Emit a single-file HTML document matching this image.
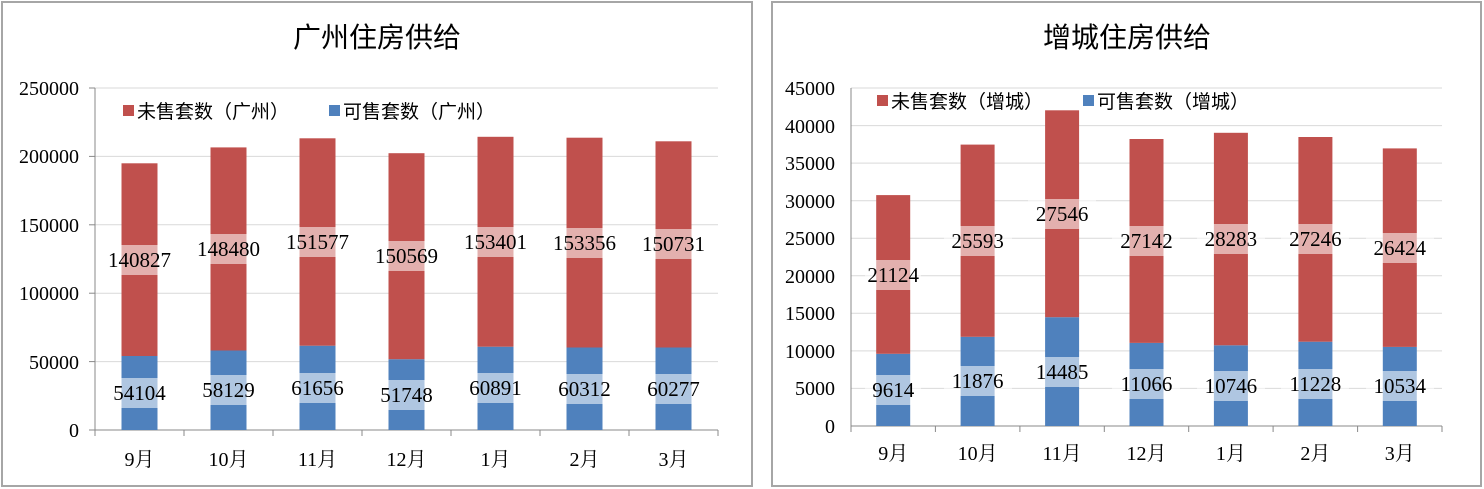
<!DOCTYPE html>
<html><head><meta charset="utf-8"><style>
html,body{margin:0;padding:0;background:#fff;}
svg{display:block;font-family:"Liberation Serif","Noto Serif CJK SC","Noto Sans CJK SC",serif;}
.t{font-size:20px;fill:#000;}
.d{font-size:21px;fill:#000;}
.lg{font-size:19px;font-family:"Liberation Sans","Noto Sans CJK SC",sans-serif;}
.ttl{font-size:28px;font-family:"Liberation Sans","Noto Sans CJK SC",sans-serif;}
.g{stroke:#d9d9d9;stroke-width:1;}
.ax{stroke:#888;stroke-width:1;}
.r{fill:#c0504d;} .b{fill:#4f81bd;}
.lb{fill:#fff;opacity:0.55;}
</style></head><body>
<svg width="1484" height="489" viewBox="0 0 1484 489">
<rect x="2" y="2" width="750" height="484" fill="#fff" stroke="#a6a6a6" stroke-width="2"/>
<rect x="772" y="2" width="709" height="484" fill="#fff" stroke="#a6a6a6" stroke-width="2"/>

<!-- LEFT -->
<text class="ttl" x="377" y="47" text-anchor="middle">广州住房供给</text>
<g>
<line class="g" x1="95" x2="718" y1="88" y2="88"/>
<line class="g" x1="95" x2="718" y1="156.4" y2="156.4"/>
<line class="g" x1="95" x2="718" y1="224.8" y2="224.8"/>
<line class="g" x1="95" x2="718" y1="293.2" y2="293.2"/>
<line class="g" x1="95" x2="718" y1="361.6" y2="361.6"/>
<line class="ax" x1="95" x2="95" y1="88" y2="430"/>
<line class="ax" x1="89" x2="95" y1="88" y2="88"/><line class="ax" x1="89" x2="95" y1="156.4" y2="156.4"/><line class="ax" x1="89" x2="95" y1="224.8" y2="224.8"/><line class="ax" x1="89" x2="95" y1="293.2" y2="293.2"/><line class="ax" x1="89" x2="95" y1="361.6" y2="361.6"/><line class="ax" x1="89" x2="95" y1="430" y2="430"/>
<line class="ax" x1="95" x2="718" y1="430" y2="430"/>
<line class="ax" x1="95" x2="95" y1="430" y2="436"/><line class="ax" x1="184" x2="184" y1="430" y2="436"/><line class="ax" x1="273" x2="273" y1="430" y2="436"/><line class="ax" x1="362" x2="362" y1="430" y2="436"/><line class="ax" x1="451" x2="451" y1="430" y2="436"/><line class="ax" x1="540" x2="540" y1="430" y2="436"/><line class="ax" x1="629" x2="629" y1="430" y2="436"/><line class="ax" x1="718" x2="718" y1="430" y2="436"/>
<g class="t" text-anchor="end">
<text x="79" y="95">250000</text><text x="79" y="163">200000</text><text x="79" y="232">150000</text><text x="79" y="300">100000</text><text x="79" y="369">50000</text><text x="79" y="437">0</text>
</g>
<g class="t" text-anchor="middle">
<text x="139.5" y="466">9月</text><text x="228.5" y="466">10月</text><text x="317.5" y="466">11月</text><text x="406.5" y="466">12月</text><text x="495.5" y="466">1月</text><text x="584.5" y="466">2月</text><text x="673.5" y="466">3月</text>
</g>
<rect class="r" x="123" y="105" width="11" height="11"/><text class="lg" x="137" y="118">未售套数（广州）</text>
<rect class="b" x="329" y="105" width="11" height="11"/><text class="lg" x="343" y="118">可售套数（广州）</text>

<rect class="b" x="121.5" y="356" width="36" height="74"/><rect class="r" x="121.5" y="163.3" width="36" height="192.7"/>
<rect class="b" x="210.5" y="350.5" width="36" height="79.5"/><rect class="r" x="210.5" y="147.4" width="36" height="203.1"/>
<rect class="b" x="299.5" y="345.7" width="36" height="84.3"/><rect class="r" x="299.5" y="138.3" width="36" height="207.4"/>
<rect class="b" x="388.5" y="359.2" width="36" height="70.8"/><rect class="r" x="388.5" y="153.2" width="36" height="206"/>
<rect class="b" x="477.5" y="346.7" width="36" height="83.3"/><rect class="r" x="477.5" y="136.8" width="36" height="209.9"/>
<rect class="b" x="566.5" y="347.5" width="36" height="82.5"/><rect class="r" x="566.5" y="137.7" width="36" height="209.8"/>
<rect class="b" x="655.5" y="347.5" width="36" height="82.5"/><rect class="r" x="655.5" y="141.3" width="36" height="206.2"/>
<g>
<rect class="lb" x="105.5" y="378" width="68" height="30"/><rect class="lb" x="105.5" y="245" width="68" height="30"/>
<rect class="lb" x="194.5" y="375" width="68" height="30"/><rect class="lb" x="194.5" y="234" width="68" height="30"/>
<rect class="lb" x="283.5" y="373" width="68" height="30"/><rect class="lb" x="283.5" y="227" width="68" height="30"/>
<rect class="lb" x="372.5" y="380" width="68" height="30"/><rect class="lb" x="372.5" y="241" width="68" height="30"/>
<rect class="lb" x="461.5" y="373" width="68" height="30"/><rect class="lb" x="461.5" y="227" width="68" height="30"/>
<rect class="lb" x="550.5" y="374" width="68" height="30"/><rect class="lb" x="550.5" y="228" width="68" height="30"/>
<rect class="lb" x="639.5" y="374" width="68" height="30"/><rect class="lb" x="639.5" y="229" width="68" height="30"/>
</g>
<g class="d" text-anchor="middle">
<text x="139.5" y="400">54104</text><text x="139.5" y="267">140827</text>
<text x="228.5" y="397">58129</text><text x="228.5" y="256">148480</text>
<text x="317.5" y="395">61656</text><text x="317.5" y="249">151577</text>
<text x="406.5" y="402">51748</text><text x="406.5" y="263">150569</text>
<text x="495.5" y="395">60891</text><text x="495.5" y="249">153401</text>
<text x="584.5" y="396">60312</text><text x="584.5" y="250">153356</text>
<text x="673.5" y="396">60277</text><text x="673.5" y="251">150731</text>
</g>
</g>

<!-- RIGHT -->
<text class="ttl" x="1127" y="47" text-anchor="middle">增城住房供给</text>
<g>
<line class="g" x1="851" x2="1442" y1="88" y2="88"/>
<line class="g" x1="851" x2="1442" y1="125.6" y2="125.6"/>
<line class="g" x1="851" x2="1442" y1="163.1" y2="163.1"/>
<line class="g" x1="851" x2="1442" y1="200.7" y2="200.7"/>
<line class="g" x1="851" x2="1442" y1="238.2" y2="238.2"/>
<line class="g" x1="851" x2="1442" y1="275.8" y2="275.8"/>
<line class="g" x1="851" x2="1442" y1="313.3" y2="313.3"/>
<line class="g" x1="851" x2="1442" y1="350.9" y2="350.9"/>
<line class="g" x1="851" x2="1442" y1="388.4" y2="388.4"/>
<line class="ax" x1="851" x2="851" y1="88" y2="426"/>
<line class="ax" x1="851" x2="1442" y1="426" y2="426"/>
<line class="ax" x1="851" x2="851" y1="426" y2="432"/><line class="ax" x1="935.4" x2="935.4" y1="426" y2="432"/><line class="ax" x1="1019.9" x2="1019.9" y1="426" y2="432"/><line class="ax" x1="1104.3" x2="1104.3" y1="426" y2="432"/><line class="ax" x1="1188.7" x2="1188.7" y1="426" y2="432"/><line class="ax" x1="1273.1" x2="1273.1" y1="426" y2="432"/><line class="ax" x1="1357.6" x2="1357.6" y1="426" y2="432"/><line class="ax" x1="1442" x2="1442" y1="426" y2="432"/>
<g class="t" text-anchor="end">
<text x="835" y="95">45000</text><text x="835" y="133">40000</text><text x="835" y="170">35000</text><text x="835" y="208">30000</text><text x="835" y="245">25000</text><text x="835" y="283">20000</text><text x="835" y="320">15000</text><text x="835" y="358">10000</text><text x="835" y="395">5000</text><text x="835" y="433">0</text>
</g>
<g class="t" text-anchor="middle">
<text x="893.2" y="460">9月</text><text x="977.6" y="460">10月</text><text x="1062.1" y="460">11月</text><text x="1146.5" y="460">12月</text><text x="1230.9" y="460">1月</text><text x="1315.4" y="460">2月</text><text x="1399.8" y="460">3月</text>
</g>
<rect class="r" x="877" y="95" width="11" height="11"/><text class="lg" x="891" y="108">未售套数（增城）</text>
<rect class="b" x="1083" y="95" width="11" height="11"/><text class="lg" x="1097" y="108">可售套数（增城）</text>

<rect class="b" x="876.2" y="353.8" width="34" height="72.2"/><rect class="r" x="876.2" y="195.1" width="34" height="158.7"/>
<rect class="b" x="960.6" y="336.8" width="34" height="89.2"/><rect class="r" x="960.6" y="144.6" width="34" height="192.2"/>
<rect class="b" x="1045.1" y="317.2" width="34" height="108.8"/><rect class="r" x="1045.1" y="110.3" width="34" height="206.9"/>
<rect class="b" x="1129.5" y="342.9" width="34" height="83.1"/><rect class="r" x="1129.5" y="139" width="34" height="203.9"/>
<rect class="b" x="1213.9" y="345.3" width="34" height="80.7"/><rect class="r" x="1213.9" y="132.8" width="34" height="212.5"/>
<rect class="b" x="1298.4" y="341.7" width="34" height="84.3"/><rect class="r" x="1298.4" y="137" width="34" height="204.7"/>
<rect class="b" x="1382.8" y="346.9" width="34" height="79.1"/><rect class="r" x="1382.8" y="148.4" width="34" height="198.5"/>
<g>
<rect class="lb" x="865" y="375" width="56" height="30"/><rect class="lb" x="865" y="260" width="56" height="30"/>
<rect class="lb" x="944" y="366" width="68" height="30"/><rect class="lb" x="944" y="226" width="68" height="30"/>
<rect class="lb" x="1028" y="357" width="68" height="30"/><rect class="lb" x="1028" y="199" width="68" height="30"/>
<rect class="lb" x="1112" y="369" width="68" height="30"/><rect class="lb" x="1112" y="226" width="68" height="30"/>
<rect class="lb" x="1197" y="371" width="68" height="30"/><rect class="lb" x="1197" y="224" width="68" height="30"/>
<rect class="lb" x="1281" y="369" width="68" height="30"/><rect class="lb" x="1281" y="224" width="68" height="30"/>
<rect class="lb" x="1366" y="371" width="68" height="30"/><rect class="lb" x="1366" y="233" width="68" height="30"/>
</g>
<g class="d" text-anchor="middle">
<text x="893.2" y="397">9614</text><text x="893.2" y="282">21124</text>
<text x="977.6" y="388">11876</text><text x="977.6" y="248">25593</text>
<text x="1062.1" y="379">14485</text><text x="1062.1" y="221">27546</text>
<text x="1146.5" y="391">11066</text><text x="1146.5" y="248">27142</text>
<text x="1230.9" y="393">10746</text><text x="1230.9" y="246">28283</text>
<text x="1315.4" y="391">11228</text><text x="1315.4" y="246">27246</text>
<text x="1399.8" y="393">10534</text><text x="1399.8" y="255">26424</text>
</g>
</g>
</svg>
</body></html>
